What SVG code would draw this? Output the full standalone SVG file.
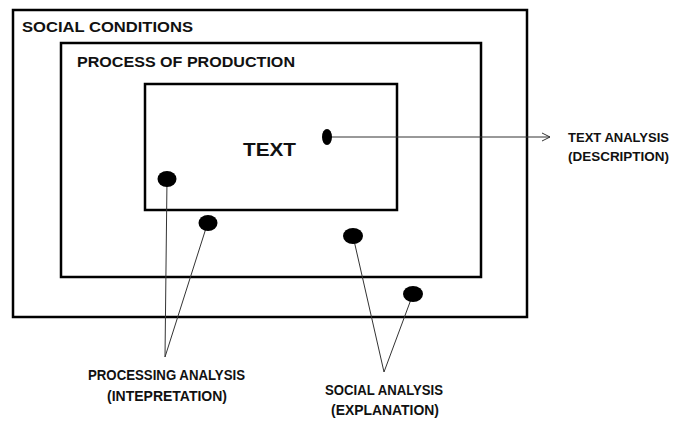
<svg xmlns="http://www.w3.org/2000/svg" width="676" height="421" viewBox="0 0 676 421">
<defs>
<style>
.box{fill:none;stroke:#000;stroke-width:2.5}
.dot{fill:#000}
.ln{fill:none;stroke:#333;stroke-width:1}
.t{font-family:"Liberation Sans",Arial,sans-serif;font-weight:bold;fill:#111}
</style>
<marker id="arr" markerWidth="12" markerHeight="12" refX="10" refY="6" orient="auto" markerUnits="userSpaceOnUse">
<path d="M2,2 L10,6 L2,10" fill="none" stroke="#333" stroke-width="1"/>
</marker>
</defs>
<rect width="676" height="421" fill="#fff"/>
<g id="social-conditions">
<rect class="box" x="13" y="10" width="514" height="307"/>
<text class="t" x="22" y="32" font-size="15" textLength="171" lengthAdjust="spacingAndGlyphs">SOCIAL CONDITIONS</text>
</g>
<g id="process-of-production">
<rect class="box" x="61" y="43" width="420" height="234"/>
<text class="t" x="77" y="67" font-size="15" textLength="218" lengthAdjust="spacingAndGlyphs">PROCESS OF PRODUCTION</text>
</g>
<g id="text-box">
<rect class="box" x="145" y="84" width="252" height="126"/>
<text class="t" x="243" y="156" font-size="19" textLength="53" lengthAdjust="spacingAndGlyphs">TEXT</text>
</g>
<g id="connectors">
<line class="ln" x1="327" y1="137" x2="550" y2="137" marker-end="url(#arr)"/>
<polyline class="ln" points="167,179 165,357 207,225"/>
<polyline class="ln" points="353,236 384,372 413,294"/>
</g>
<g id="dots">
<ellipse class="dot" cx="327" cy="137" rx="5" ry="8"/>
<ellipse class="dot" cx="167" cy="179" rx="9.5" ry="8"/>
<ellipse class="dot" cx="208" cy="223" rx="9.5" ry="8"/>
<ellipse class="dot" cx="353" cy="236" rx="10" ry="8"/>
<ellipse class="dot" cx="413" cy="294" rx="10" ry="8"/>
</g>
<g id="text-analysis">
<text class="t" x="568" y="142" font-size="13.5" textLength="101" lengthAdjust="spacingAndGlyphs">TEXT ANALYSIS</text>
<text class="t" x="568" y="161" font-size="13.5" textLength="101" lengthAdjust="spacingAndGlyphs">(DESCRIPTION)</text>
</g>
<g id="processing-analysis">
<text class="t" x="88" y="380" font-size="14" textLength="157" lengthAdjust="spacingAndGlyphs">PROCESSING ANALYSIS</text>
<text class="t" x="107" y="401" font-size="14" textLength="120" lengthAdjust="spacingAndGlyphs">(INTEPRETATION)</text>
</g>
<g id="social-analysis">
<text class="t" x="325" y="395" font-size="14" textLength="118" lengthAdjust="spacingAndGlyphs">SOCIAL ANALYSIS</text>
<text class="t" x="331" y="415" font-size="14" textLength="108" lengthAdjust="spacingAndGlyphs">(EXPLANATION)</text>
</g>
</svg>
